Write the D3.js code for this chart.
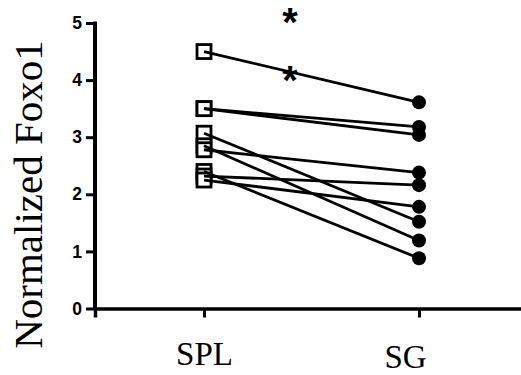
<html>
<head><script src="https://d3js.org/d3.v7.min.js"></script></head>
<style>
    body { margin: 0; background: white; }
</style>
<body>
<svg id="svg1" width="521" height="375"></svg>
<script>
    // values, one pair per animal
    const groups = ["SPL", "SG"]
    const splValues = [4.5, 3.5, 3.5, 3.07, 2.85, 2.78, 2.4, 2.32, 2.25]
    const sgValues = [3.61, 3.18, 3.04, 1.52, 1.19, 2.38, 0.88, 2.16, 1.78]
    const yTicks = [0, 1, 2, 3, 4, 5]
    // asterisks: fraction of the way from SPL to SG, and y value
    const starPos = [0.4, 0.4]
    const starValues = [4.11, 5.12]

    const svg = d3.select("svg#svg1")
    const width = +svg.attr("width")

    const xScale = d3.scalePoint()
        .domain(groups)
        .range([95, 528])
        .padding(0.507)

    const yScale = d3.scaleLinear()
        .domain([0, 5])
        .range([308.5, 23])

    const xAxis = svg.append("g")
        .attr("transform", "translate(0,308.5)")
        .call(d3.axisBottom(xScale).tickSizeOuter(0).tickSize(9))
    xAxis.select(".domain").attr("stroke-width", 3.5)
    xAxis.selectAll(".tick line").attr("stroke-width", 3)
    xAxis.selectAll(".tick text")
        .attr("font-family", "Liberation Serif")
        .attr("font-size", 33)
        .attr("fill", "black")
        .attr("dx", d => d == "SG" ? -14 : 0)
        .attr("dy", 0)
        .attr("y", d => d == "SG" ? 59.5 : 56.5)

    const yAxis = svg.append("g")
        .attr("transform", "translate(95,0)")
        .call(d3.axisLeft(yScale).tickValues(yTicks).tickFormat(d3.format("d"))
            .tickSizeOuter(0).tickSize(9).tickPadding(4))
    yAxis.select(".domain").attr("stroke-width", 4).attr("d", "M0,21.5V308.5")
    yAxis.selectAll(".tick line").attr("stroke-width", 3)
    yAxis.selectAll(".tick text")
        .attr("font-family", "Liberation Sans")
        .attr("font-weight", "bold")
        .attr("font-size", 17.5)
        .attr("fill", "black")

    svg.append("text")
        .attr("transform", "translate(42,194.5) rotate(-90)")
        .attr("text-anchor", "middle")
        .attr("font-family", "Liberation Serif")
        .attr("font-size", 41)
        .text("Normalized Foxo1")

    const pairs = splValues.map((v, i) => ({spl: v, sg: sgValues[i]}))

    // open squares first, the lines run over them
    svg.selectAll("rect.spl").data(pairs)
        .join("rect")
        .attr("class", "spl")
        .attr("x", xScale("SPL") - 7)
        .attr("y", d => yScale(d.spl) - 7)
        .attr("width", 14)
        .attr("height", 14)
        .attr("fill", "white")
        .attr("stroke", "black")
        .attr("stroke-width", 2.8)

    svg.selectAll("line.pair").data(pairs)
        .join("line")
        .attr("class", "pair")
        .attr("x1", xScale("SPL"))
        .attr("y1", d => yScale(d.spl))
        .attr("x2", xScale("SG"))
        .attr("y2", d => yScale(d.sg))
        .attr("stroke", "black")
        .attr("stroke-width", 2.8)

    svg.selectAll("circle.sg").data(pairs)
        .join("circle")
        .attr("class", "sg")
        .attr("cx", xScale("SG"))
        .attr("cy", d => yScale(d.sg))
        .attr("r", 7)
        .attr("fill", "black")

    const x0 = xScale("SPL"), x1 = xScale("SG")
    svg.selectAll("text.star").data(starValues)
        .join("text")
        .attr("class", "star")
        .attr("x", (d, i) => x0 + starPos[i] * (x1 - x0))
        .attr("y", d => yScale(d) + 20)
        .attr("text-anchor", "middle")
        .attr("font-family", "Liberation Sans")
        .attr("font-weight", "bold")
        .attr("font-size", 40)
        .text("*")
</script>
</body>
</html>
